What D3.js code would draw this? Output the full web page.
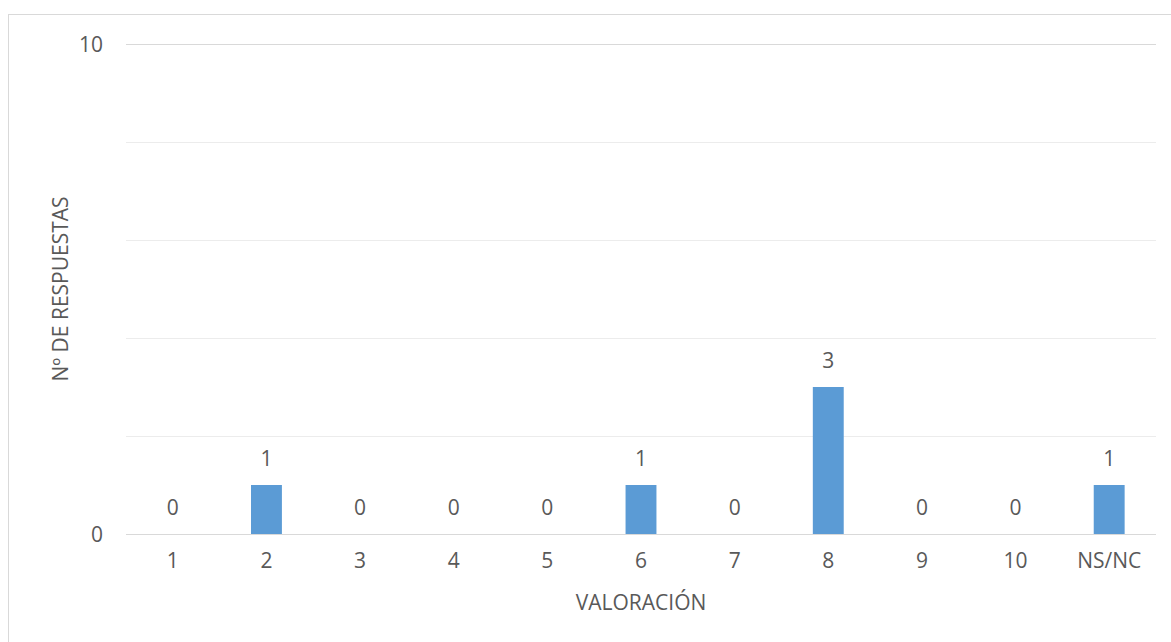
<!DOCTYPE html>
<meta charset="utf-8">
<style>
  body { margin: 0; background: #fff; }
  text { font-family: "Open Sans", Lato, sans-serif; fill: #595959; font-size: 21px; }
</style>
<svg width="1171" height="642"></svg>
<script src="https://d3js.org/d3.v7.min.js"></script>
<script>

var categories = ["1", "2", "3", "4", "5", "6", "7", "8", "9", "10", "NS/NC"];
var values = [0, 1, 0, 0, 0, 1, 0, 3, 0, 0, 1];
var yTickLabels = [0, 10];
var gridValues = [2, 4, 6, 8, 10];

var margin = {top: 44, left: 126},
    width = 1156 - margin.left,
    height = 534 - margin.top;

var svg = d3.select("svg");

// chart border
svg.append("rect")
    .attr("x", 8.5).attr("y", 14.5)
    .attr("width", 1180).attr("height", 640)
    .attr("fill", "none")
    .attr("stroke", "#d9d9d9");

var g = svg.append("g").attr("transform", "translate(" + margin.left + "," + margin.top + ")");

var x = d3.scaleBand()
    .domain(categories)
    .range([0, width])
    .paddingInner(0.67)
    .paddingOuter(0.335);

var y = d3.scaleLinear()
    .domain([0, 10])
    .range([height, 0]);

// gridlines
g.selectAll(".grid")
    .data(gridValues)
    .enter().append("line")
      .attr("x1", 0).attr("x2", width)
      .attr("y1", function(d) { return Math.round(y(d)) + 0.5; })
      .attr("y2", function(d) { return Math.round(y(d)) + 0.5; })
      .attr("stroke", function(d) { return d === 10 ? "#d9d9d9" : "#ececec"; });

// y tick labels
g.selectAll(".ytick")
    .data(yTickLabels)
    .enter().append("text")
      .attr("x", -23)
      .attr("y", function(d) { return y(d); })
      .attr("dy", "0.36em")
      .attr("text-anchor", "end")
      .text(function(d) { return d; });

// bars
g.selectAll(".bar")
    .data(values)
    .enter().append("rect")
      .attr("x", function(d, i) { return x(categories[i]); })
      .attr("width", x.bandwidth())
      .attr("y", function(d) { return y(d); })
      .attr("height", function(d) { return height - y(d); })
      .attr("fill", "#5b9bd5");

// baseline
g.append("line")
    .attr("x1", 0).attr("x2", width)
    .attr("y1", height + 0.5).attr("y2", height + 0.5)
    .attr("stroke", "#d9d9d9");

// value labels
g.selectAll(".val")
    .data(values)
    .enter().append("text")
      .attr("x", function(d, i) { return x(categories[i]) + x.bandwidth() / 2; })
      .attr("y", function(d) { return y(d) - 19; })
      .attr("text-anchor", "middle")
      .text(function(d) { return d; });

// x tick labels
g.selectAll(".xtick")
    .data(categories)
    .enter().append("text")
      .attr("x", function(d) { return x(d) + x.bandwidth() / 2; })
      .attr("y", height + 34)
      .attr("text-anchor", "middle")
      .text(function(d) { return d; });

// axis titles
g.append("text")
    .attr("x", width / 2)
    .attr("y", height + 76)
    .attr("text-anchor", "middle")
    .text("VALORACIÓN");

g.append("text")
    .attr("transform", "translate(" + (-58.5) + "," + (height / 2) + ") rotate(-90)")
    .attr("text-anchor", "middle")
    .text("Nº DE RESPUESTAS");

</script>
